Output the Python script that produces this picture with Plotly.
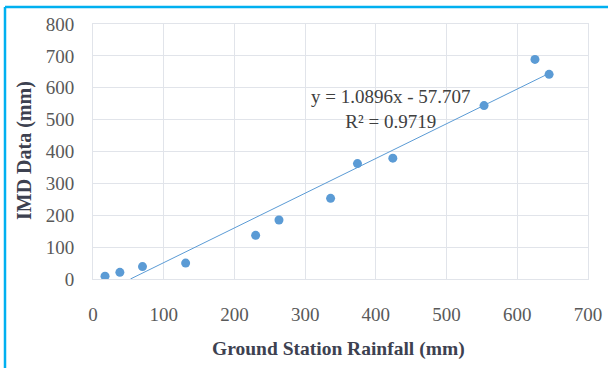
import plotly.graph_objects as go

# Data
ground_rain = [17, 38, 70, 131, 230, 263, 336, 374, 424, 553, 625, 645]
imd_rain = [9, 21, 39, 50, 137, 185, 253, 362, 379, 544, 689, 642]

slope = 1.0896
intercept = -57.707
eq_text = "y = 1.0896x - 57.707<br>R² = 0.9719"

x_ticks = [0, 100, 200, 300, 400, 500, 600, 700]
y_ticks = [0, 100, 200, 300, 400, 500, 600, 700, 800]

# trendline endpoints (clipped at y = 0 as in the reference)
x_start = -intercept / slope
x_end = max(ground_rain)
trend_x = [x_start, x_end]
trend_y = [slope * v + intercept for v in trend_x]

fig = go.Figure()
fig.add_trace(go.Scatter(
    x=trend_x, y=trend_y, mode="lines",
    line=dict(color="#5b9bd5", width=1), hoverinfo="skip", showlegend=False))
fig.add_trace(go.Scatter(
    x=ground_rain, y=imd_rain, mode="markers",
    marker=dict(color="#5b9bd5", size=9), showlegend=False))

font_family = "Liberation Serif, Times New Roman, serif"
grid_col = "#e1e4ea"

fig.update_layout(
    width=608, height=368,
    margin=dict(l=93, r=20, t=24, b=89),
    paper_bgcolor="white", plot_bgcolor="white",
    font=dict(family=font_family, size=19, color="#595959"),
    xaxis=dict(range=[0, 700], tickvals=x_ticks, showgrid=True, gridcolor=grid_col,
               gridwidth=1, showline=True, linecolor=grid_col, mirror=True,
               zeroline=False, ticks="", ticklabelstandoff=18, automargin=False,
               tickfont=dict(size=19, color="#595959")),
    yaxis=dict(range=[0, 800], tickvals=y_ticks, showgrid=True, gridcolor=grid_col,
               gridwidth=1, showline=True, linecolor=grid_col, mirror=True,
               zeroline=False, ticks="", ticklabelstandoff=14, automargin=False,
               tickfont=dict(size=19, color="#595959")),
    annotations=[
        dict(text="<b>Ground Station Rainfall (mm)</b>", xref="paper", yref="paper",
             x=(338 - 93) / 495, y=(279 - 349) / 255, xanchor="center", yanchor="middle",
             showarrow=False, font=dict(family=font_family, size=19.5, color="#3d4150")),
        dict(text="<b>IMD Data (mm)</b>", xref="paper", yref="paper",
             x=(24 - 93) / 495, y=(279 - 151) / 255, xanchor="center", yanchor="middle",
             textangle=-90, showarrow=False,
             font=dict(family=font_family, size=20, color="#3d4150")),
        dict(text=eq_text, xref="paper", yref="paper",
             x=(391 - 93) / 495, y=(279 - 109) / 255, xanchor="center", yanchor="middle",
             showarrow=False, align="center",
             font=dict(family=font_family, size=19, color="#404040")),
    ],
    shapes=[
        dict(type="line", xref="paper", yref="paper",
             x0=(5 - 93) / 495, x1=(610 - 93) / 495,
             y0=(279 - 7) / 255, y1=(279 - 7) / 255,
             line=dict(color="#00b0f0", width=2.5)),
        dict(type="line", xref="paper", yref="paper",
             x0=(5 - 93) / 495, x1=(5 - 93) / 495,
             y0=(279 - 7) / 255, y1=(279 - 370) / 255,
             line=dict(color="#00b0f0", width=2.5)),
    ],
)

fig.write_html("out.html", config={"displayModeBar": False},
               post_script="document.body.style.margin='0';")
